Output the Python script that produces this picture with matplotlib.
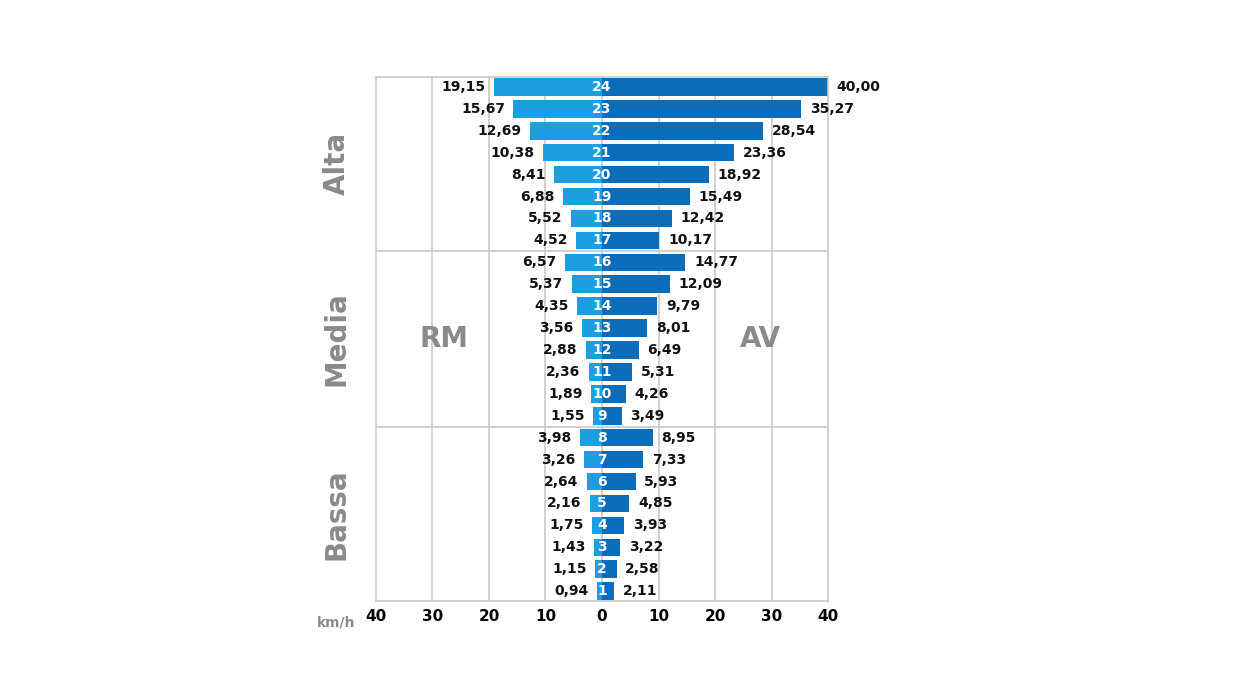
import matplotlib
matplotlib.use("Agg")
import matplotlib.pyplot as plt

levels = list(range(1, 25))
rm = [0.94,1.15,1.43,1.75,2.16,2.64,3.26,3.98,1.55,1.89,2.36,2.88,3.56,4.35,5.37,6.57,
      4.52,5.52,6.88,8.41,10.38,12.69,15.67,19.15]
av = [2.11,2.58,3.22,3.93,4.85,5.93,7.33,8.95,3.49,4.26,5.31,6.49,8.01,9.79,12.09,14.77,
      10.17,12.42,15.49,18.92,23.36,28.54,35.27,40.00]
groups = ["Bassa", "Media", "Alta"]
xticks = [-40,-30,-20,-10,0,10,20,30,40]
xticklabels = ["40","30","20","10","0","10","20","30","40"]

fig = plt.figure(figsize=(12.42, 6.99), dpi=100)
ax = fig.add_axes([0.3027, 0.1402, 0.364, 0.7496])
ax.set_xlim(-40, 40)
ax.set_ylim(0.55, 24.45)
grid = "#c8c8c8"
for x in xticks[1:-1]:
    ax.axvline(x, color=grid, lw=1.2, zorder=0)
for y in [8.5, 16.5]:
    ax.axhline(y, color=grid, lw=1.2, zorder=0)
for s in ax.spines.values():
    s.set_color(grid); s.set_linewidth(1.2)

ax.barh(levels, [-v for v in rm], height=0.8, color="#1c9ee0", zorder=2)
ax.barh(levels, av, height=0.8, color="#0b6cba", zorder=2)
for l, a, b in zip(levels, rm, av):
    ax.text(-a - 1.5, l, f"{a:.2f}".replace(".", ","), ha="right", va="center",
            fontsize=10, fontweight="bold", color="#111")
    ax.text(b + 1.5, l, f"{b:.2f}".replace(".", ","), ha="left", va="center",
            fontsize=10, fontweight="bold", color="#111")
    ax.text(0, l, str(l), ha="center", va="center", fontsize=10,
            fontweight="bold", color="white", zorder=3)

ax.set_xticks(xticks)
ax.set_xticklabels(xticklabels, fontsize=11, fontweight="bold")
ax.tick_params(axis="x", length=0, pad=6)
ax.set_yticks([])
for g, yc in zip(groups, [4.5, 12.5, 20.5]):
    ax.text(-47, yc, g, rotation=90, ha="center", va="center", fontsize=20,
            fontweight="bold", color="#8a8a8a")
ax.text(-28, 12.5, "RM", ha="center", va="center", fontsize=20, fontweight="bold", color="#8a8a8a")
ax.text(28, 12.5, "AV", ha="center", va="center", fontsize=20, fontweight="bold", color="#8a8a8a")
ax.text(-47, -0.45, "km/h", ha="center", va="center", fontsize=10, fontweight="bold", color="#8a8a8a")

fig.savefig("out.png", dpi=100)
